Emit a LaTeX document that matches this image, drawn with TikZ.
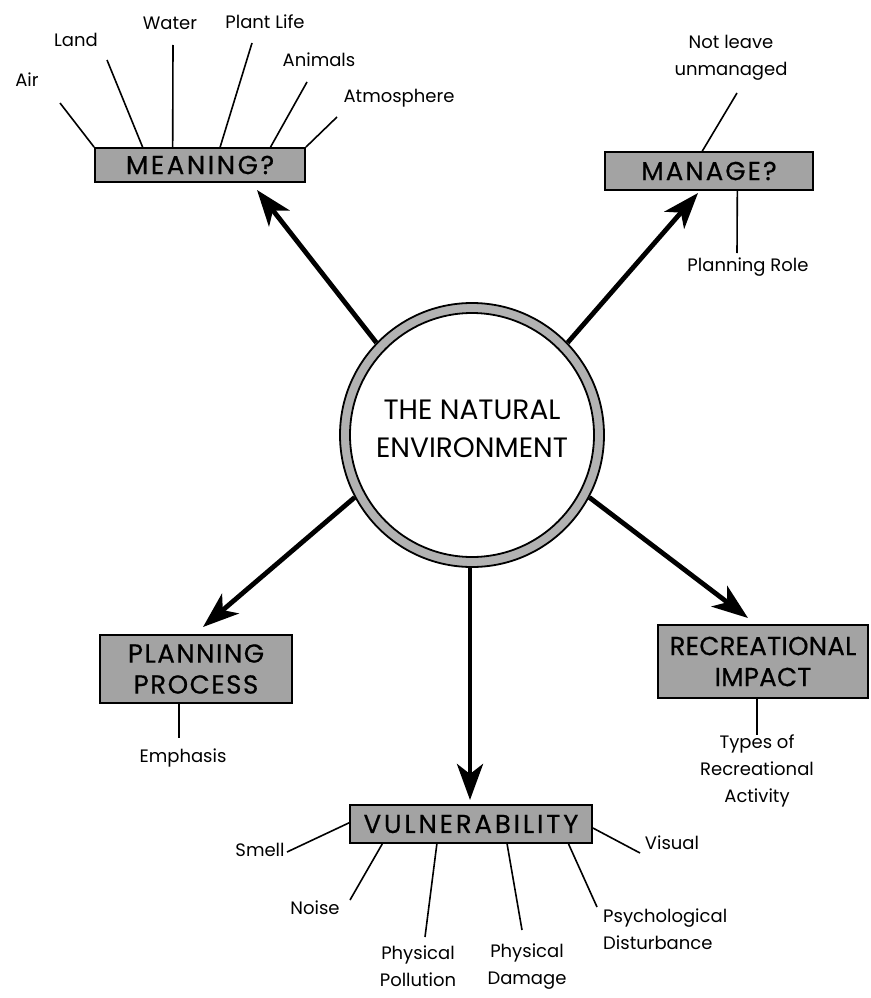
\documentclass[tikz,border=0pt]{standalone}
\usepackage{fontspec}
\setmainfont{Poppins}
\usetikzlibrary{arrows.meta,calc}

\begin{document}
\begin{tikzpicture}[x=1pt,y=-1pt,
  box/.style={draw,line width=1.8pt,fill=black!36,inner sep=0pt,align=center},
  boxfont/.style={font=\fontsize{26}{31}\selectfont\addfontfeature{LetterSpace=#1,FakeBold=0.6}},
  lbl/.style={inner sep=0pt,align=center,font=\fontsize{18}{27}\selectfont},
  spoke/.style={line width=1.6pt},
  bigarrow/.style={line width=4.8pt,-{Stealth[length=36pt,width=26pt,inset=10pt]}}]

\useasboundingbox (0,0) rectangle (870,998);

% central ring
\node[circle,draw,line width=1.8pt,fill=black!30,minimum size=264pt,inner sep=0pt] (env) at (472,435) {};
\node[circle,draw,line width=1.8pt,fill=white,minimum size=244pt,inner sep=0pt] (envin) at (env.center) {};
\node[inner sep=0pt,align=center,font=\fontsize{28}{38}\selectfont] (envtxt) at (472,429)
  {THE NATURAL\\ENVIRONMENT};

% theme boxes
\node[box,boxfont=10,minimum width=210pt,minimum height=34pt] (meaning) at (200,165) {MEANING?};
\node[box,boxfont=8,minimum width=208pt,minimum height=38pt] (manage) at (709,171) {MANAGE?};
\node[box,boxfont=6,minimum width=192pt,minimum height=68pt] (planning) at (196,669) {PLANNING\\PROCESS};
\node[box,boxfont=1,minimum width=210pt,minimum height=73pt] (recre) at (763,661.5) {RECREATIONAL\\IMPACT};
\node[box,boxfont=11,minimum width=242pt,minimum height=38pt] (vuln) at (471,824) {VULNERABILITY};

% arrows out of the ring
\coordinate (tipM) at (257,190);
\coordinate (tipG) at (698,193);
\coordinate (tipP) at (203,627);
\coordinate (tipR) at (748,618);
\coordinate (tipV) at (470,800);
\draw[bigarrow] (env.136) -- (tipM);
\draw[bigarrow] (env.44) -- (tipG);
\draw[bigarrow] (env.208) -- (tipP);
\draw[bigarrow] (env.332) -- (tipR);
\draw[bigarrow] (env.south -| tipV) -- (tipV);

% meaning
\node[lbl] (air) at (27,80) {Air};
\node[lbl] (land) at (76,40) {Land};
\node[lbl] (water) at (170,23) {Water};
\node[lbl] (plant) at (265,22) {Plant Life};
\node[lbl] (animals) at (319,60) {Animals};
\node[lbl] (atmos) at (399,98) {Atmosphere};
\coordinate (eAir) at (60,103);
\coordinate (eLand) at (107,60);
\coordinate (eWater) at (173,45);
\coordinate (ePlant) at (252,43);
\coordinate (eAnim) at (307,82);
\coordinate (eAtmo) at (337,117);
\draw[spoke] (eAir) -- (meaning.north west);
\draw[spoke] (eLand) -- ($(meaning.north west)!0.229!(meaning.north east)$);
\draw[spoke] (eWater) -- ($(meaning.north west)!0.371!(meaning.north east)$);
\draw[spoke] (ePlant) -- ($(meaning.north west)!0.595!(meaning.north east)$);
\draw[spoke] (eAnim) -- ($(meaning.north west)!0.833!(meaning.north east)$);
\draw[spoke] (eAtmo) -- (meaning.north east);

% manage
\node[lbl] (notleave) at (731,58) {Not leave\\unmanaged};
\node[lbl] (role) at (748,267) {Planning Role};
\coordinate (eNot) at (737,93);
\coordinate (eRole) at (737,253);
\draw[spoke] (eNot) -- ($(manage.north west)!0.468!(manage.north east)$);
\draw[spoke] ($(manage.south west)!0.635!(manage.south east)$) -- (eRole);

% planning process
\node[lbl] (emph) at (183,758) {Emphasis};
\coordinate (eEmph) at (179,738);
\draw[spoke] (planning.south -| eEmph) -- (eEmph);

% recreational impact
\node[lbl,anchor=north] (types) at (757,735) {Types of\\Recreational\\Activity};
\draw[spoke] (recre.south -| types.north) -- (types.north);

% vulnerability
\node[lbl] (smell) at (260,850) {Smell};
\node[lbl] (visual) at (672,843) {Visual};
\node[lbl] (noise) at (315,908) {Noise};
\node[lbl] (ppoll) at (418,966) {Physical\\Pollution};
\node[lbl] (pdam) at (527,967) {Physical\\Damage};
\node[lbl,anchor=west,align=left] (psych) at (603,929) {Psychological\\Disturbance};
\coordinate (eSmell) at (287,852);
\coordinate (eVis) at (640,853);
\coordinate (eNoise) at (350,900);
\coordinate (ePoll) at (425,937);
\coordinate (eDam) at (522,930);
\coordinate (ePsy) at (597,907);
\draw[spoke] (eSmell) -- ($(vuln.north west)!0.47!(vuln.south west)$);
\draw[spoke] (vuln.east |- 0,828) -- (eVis);
\draw[spoke] (eNoise) -- ($(vuln.south west)!0.136!(vuln.south east)$);
\draw[spoke] (ePoll) -- ($(vuln.south west)!0.36!(vuln.south east)$);
\draw[spoke] (eDam) -- ($(vuln.south west)!0.648!(vuln.south east)$);
\draw[spoke] (ePsy) -- ($(vuln.south west)!0.9!(vuln.south east)$);
\end{tikzpicture}
\end{document}
